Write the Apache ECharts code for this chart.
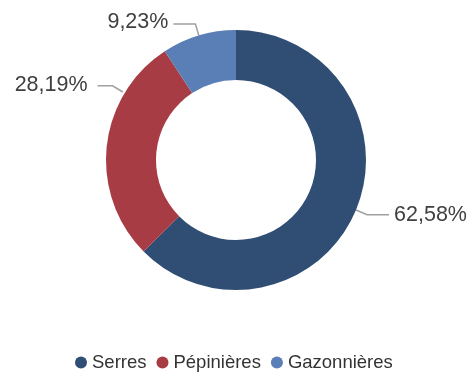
<!DOCTYPE html>
<html>
<head>
<meta charset="utf-8">
<script src="https://cdn.jsdelivr.net/npm/echarts@6/dist/echarts.min.js"></script>
<style>
  html, body { margin: 0; padding: 0; background: #fff; }
  #chart { width: 473px; height: 374px; }
</style>
</head>
<body>
<div id="chart"></div>
<script>
// Répartition des surfaces par type de production
const categories = ['Serres', 'Pépinières', 'Gazonnières'];
const shares = [62.58, 28.19, 9.23];
const colors = ['#304E73', '#A83C44', '#5A7FB6'];

const CENTER = [236, 160];
const OUTER = 130;
const FONT = 'Liberation Sans, Arial, sans-serif';

const chart = echarts.init(document.getElementById('chart'));

const data = categories.map((name, i) => ({
  name: name,
  value: shares[i],
  itemStyle: { color: colors[i] }
}));

// point on a circle around the pie centre, angle in degrees clockwise from 12 o'clock
function polar(r, deg) {
  const a = deg * Math.PI / 180;
  return [CENTER[0] + r * Math.sin(a), CENTER[1] - r * Math.cos(a)];
}

chart.setOption({
  animation: false,
  legend: {
    top: 348,
    left: 70,
    icon: 'circle',
    itemWidth: 12,
    itemHeight: 12,
    itemGap: 10,
    textStyle: { fontFamily: FONT, fontSize: 18.5, color: '#333' },
    data: categories
  },
  series: [{
    type: 'pie',
    center: CENTER,
    radius: [80, OUTER],
    startAngle: 90,
    clockwise: true,
    avoidLabelOverlap: false,
    data: data,
    label: {
      show: true,
      overflow: 'none',
      formatter: p => p.value.toFixed(2).replace('.', ',') + '%',
      fontFamily: FONT,
      fontSize: 21.5,
      color: '#404040'
    },
    labelLine: {
      show: true,
      length: 12,
      length2: 22,
      lineStyle: { color: '#a0a0a0', width: 1.5 }
    },
    // the Pépinières label sits higher on the left, its leader starting in the slice's upper part
    labelLayout: function (params) {
      if (params.dataIndex === 2) {
        return { dy: -2 };
      }
      if (params.dataIndex !== 1) return {};
      const start = polar(OUTER + 2, 301);
      const elbow = polar(OUTER + 14, 301);
      const end = [elbow[0] - 15, elbow[1]];
      return {
        x: end[0] - 10,
        y: end[1] - 1,
        align: 'right',
        verticalAlign: 'middle',
        labelLinePoints: [start, elbow, end]
      };
    }
  }]
});
</script>
</body>
</html>
